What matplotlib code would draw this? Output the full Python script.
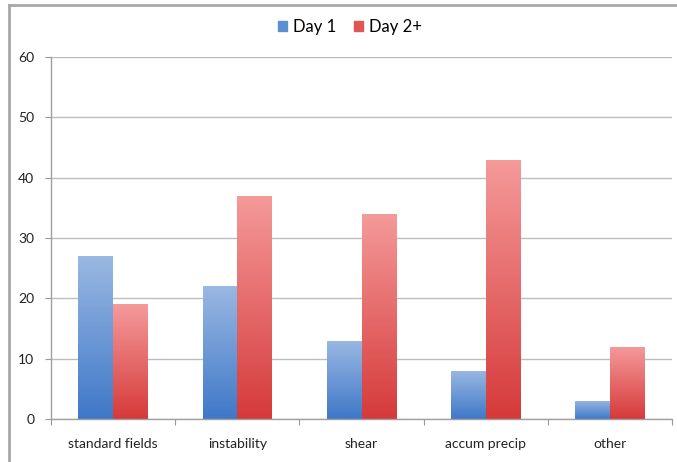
import numpy as np
import matplotlib.pyplot as plt
from matplotlib.colors import LinearSegmentedColormap
from matplotlib.lines import Line2D
from matplotlib.patches import Patch

categories = ["standard fields", "instability", "shear", "accum precip", "other"]
day1 = [27, 22, 13, 8, 3]
day2 = [19, 37, 34, 43, 12]

plt.rcParams['font.family'] = ['Lato', 'DejaVu Sans']

BLUE_CMAP = LinearSegmentedColormap.from_list("blue", ["#3f78c8", "#9ab8e2"])
RED_CMAP = LinearSegmentedColormap.from_list("red", ["#d63a3a", "#f59a9a"])


def gradient_bars(ax, rects, cmap):
    grad = np.linspace(0, 1, 256).reshape(-1, 1)
    for r in rects:
        x0, y0 = r.get_x(), r.get_y()
        w, h = r.get_width(), r.get_height()
        r.set_facecolor("none")
        r.set_edgecolor("none")
        im = ax.imshow(grad, cmap=cmap, origin="lower", aspect="auto",
                       extent=(x0, x0 + w, y0, y0 + h), zorder=2)
        im.set_clip_path(r)


fig = plt.figure(figsize=(6.77, 4.62), dpi=100)
ax = fig.add_axes([51 / 677, 1 - 419 / 462, 621 / 677, 362 / 462])

x = np.arange(len(categories))
w = 0.28
r1 = ax.bar(x - w / 2, day1, w, zorder=2)
r2 = ax.bar(x + w / 2, day2, w, zorder=2)
gradient_bars(ax, r1, BLUE_CMAP)
gradient_bars(ax, r2, RED_CMAP)

ax.set_xlim(-0.5, len(categories) - 0.5)
ax.set_ylim(0, 60)
ax.set_yticks(range(0, 61, 10))
ax.yaxis.grid(True, color="#bdbdbd", linewidth=1.0, zorder=0)
ax.set_axisbelow(True)

ax.set_xticks(np.arange(-0.5, len(categories), 1.0))
ax.set_xticklabels([])
ax.set_xticks(x, minor=True)
ax.set_xticklabels(categories, minor=True)
ax.tick_params(axis="x", which="major", length=4, color="#999999")
ax.tick_params(axis="x", which="minor", length=0, pad=14, labelsize=10, labelcolor="#222222")
ax.tick_params(axis="y", length=4, color="#999999", pad=8, labelsize=10, labelcolor="#222222")

for side in ["top", "right"]:
    ax.spines[side].set_visible(False)
for side in ["left", "bottom"]:
    ax.spines[side].set_color("#a0a0a0")
    ax.spines[side].set_linewidth(1.0)

handles = [Patch(color="#5b8fd4", label="Day 1"), Patch(color="#e25555", label="Day 2+")]
fig.legend(handles=handles, loc="center", bbox_to_anchor=(350 / 677, 1 - 27 / 462),
           ncol=2, frameon=False, fontsize=12, handlelength=0.55, handleheight=0.55,
           handletextpad=0.35, columnspacing=1.1)

# outer chart border, only left and top edges fall inside the image
bx, by = 8.5 / 677, 1 - 5 / 462
fig.add_artist(Line2D([bx, bx], [0, by], transform=fig.transFigure, color="#a8a8a8", linewidth=2.0))
fig.add_artist(Line2D([bx, 1], [by, by], transform=fig.transFigure, color="#a8a8a8", linewidth=2.0))

fig.savefig("out.png", dpi=100)
